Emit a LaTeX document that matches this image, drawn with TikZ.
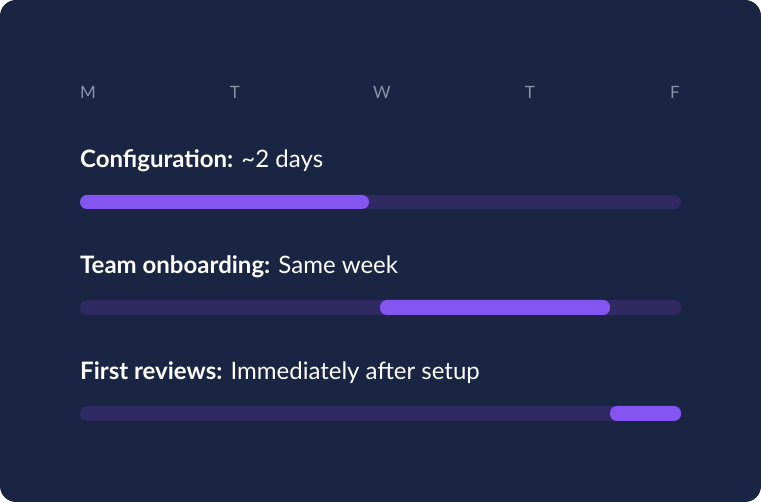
\documentclass[tikz,border=0pt]{standalone}
\usepackage{fontspec}
\setmainfont{Lato}
\definecolor{panelbg}{HTML}{1A2443}
\definecolor{trackcol}{HTML}{2F2A62}
\definecolor{fillcol}{HTML}{8555F2}
\definecolor{daycol}{HTML}{8A93A8}
\tikzset{
  daylabel/.style={text=daycol, font=\fontsize{17}{20}\selectfont, inner sep=0pt},
  rowlabel/.style={text=white, font=\fontsize{24}{28}\selectfont, inner sep=0pt, anchor=base west},
  track/.style={fill=trackcol, rounded corners=7pt},
  progress/.style={fill=fillcol, rounded corners=7pt}
}
\begin{document}
\begin{tikzpicture}[x=1pt,y=-1pt]
		%%%%% START %%%%%
		
		\fill[white] (0,0) rectangle (761,502);
		\fill[panelbg, rounded corners=16pt] (0,0) rectangle (761,502);
		
		\node[daylabel, anchor=base west] (mon) at (80,99) {M};
		\node[daylabel, anchor=base] (tue) at (235,99) {T};
		\node[daylabel, anchor=base] (wed) at (382,99) {W};
		\node[daylabel, anchor=base] (thu) at (530,99) {T};
		\node[daylabel, anchor=base east] (fri) at (680,99) {F};
		
		\node[rowlabel] (config) at (80,168) {\textbf{Configuration:} \textasciitilde2 days};
		\fill[track] (80,195) rectangle (681,209);
		\fill[progress] (80,195) rectangle (369,209);
		
		\node[rowlabel] (team) at (80,274) {\textbf{Team onboarding:} Same week};
		\fill[track] (80,300) rectangle (681,315);
		\fill[progress] (380,300) rectangle (610,315);
		
		\node[rowlabel] (first) at (80,380) {\textbf{First reviews:} Immediately after setup};
		\fill[track] (80,406) rectangle (681,421);
		\fill[progress] (610,406) rectangle (681,421);
		
		%%%%% END %%%%%
\end{tikzpicture}
\end{document}
